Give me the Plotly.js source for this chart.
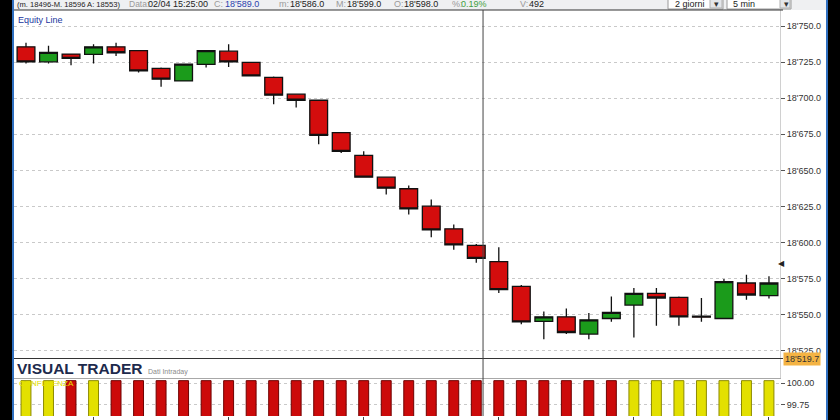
<!DOCTYPE html>
<html>
<head>
<meta charset="utf-8">
<script src="https://cdn.plot.ly/plotly-3.0.1.min.js"></script>
<style>
  html, body { margin:0; padding:0; background:#000; width:840px; height:420px; overflow:hidden; }
  #lb { position:absolute; left:12px; top:0; width:2px; height:420px; background:#2f6fc0; }
  #rb { position:absolute; left:826px; top:0; width:2px; height:420px; background:#2f6fc0; }
  #chart { position:absolute; left:14px; top:0; width:812px; height:420px; background:#fff; }
</style>
</head>
<body>
<div id="lb"></div>
<div id="rb"></div>
<div id="chart"></div>
<script>
// ---- data (5-minute bars) ----
const times = ['13:45','13:50','13:55','14:00','14:05','14:10','14:15','14:20','14:25','14:30',
               '14:35','14:40','14:45','14:50','14:55','15:00','15:05','15:10','15:15','15:20',
               '15:25','15:30','15:35','15:40','15:45','15:50','15:55','16:00','16:05','16:10',
               '16:15','16:20','16:25','16:30'];
const openP  = [18735.6,18725.2,18730.6,18730.3,18735.6,18732.9,18720.6,18712.0,18723.4,18732.6,
                18724.8,18714.4,18702.8,18698.6,18676.2,18660.4,18645.3,18637.3,18625.2,18609.5,
                18598.0,18586.8,18569.7,18545.4,18548.6,18536.6,18547.4,18556.7,18564.8,18562.0,
                18549.0,18547.4,18572.0,18563.2];
const highP  = [18738.4,18736.3,18731.0,18737.3,18738.4,18733.3,18721.3,18724.1,18732.9,18737.3,
                18725.2,18715.0,18703.3,18698.6,18676.6,18663.2,18645.3,18639.6,18629.9,18612.5,
                18599.0,18596.7,18570.6,18552.3,18554.4,18551.2,18562.7,18568.5,18568.5,18562.7,
                18561.6,18574.8,18577.8,18576.6];
const lowP   = [18724.1,18724.1,18722.9,18724.1,18729.2,18717.8,18707.9,18712.0,18721.3,18721.7,
                18715.5,18695.8,18693.5,18668.1,18662.0,18645.3,18633.3,18619.4,18603.7,18595.1,
                18586.0,18565.1,18543.5,18533.1,18536.6,18533.1,18545.1,18534.2,18542.4,18542.4,
                18545.1,18547.4,18560.4,18561.3];
const closeP = [18725.2,18731.7,18727.6,18735.6,18731.5,18719.0,18713.2,18723.6,18732.9,18725.2,
                18715.5,18702.1,18698.6,18674.3,18663.2,18645.3,18637.7,18623.4,18608.8,18598.4,
                18589.0,18567.4,18545.1,18548.6,18537.7,18546.5,18551.6,18564.8,18561.6,18548.6,
                18548.3,18572.9,18563.7,18572.0];
// lower panel indicator: state Y = yellow, R = red
const indState = ['Y','Y','R','Y','R','R','R','R','R','R','R','R','R','R','R','R','R','R','R','R',
                  'R','R','R','R','R','R','R','Y','Y','Y','Y','Y','Y','Y'];
const indValue = [100.03,100.03,100.03,100.03,100.03,100.03,100.03,100.03,100.03,100.03,100.03,100.03,
                  100.03,100.03,100.03,100.03,100.03,100.03,100.03,100.03,100.03,100.03,100.03,100.03,
                  100.03,100.03,100.03,100.03,100.03,100.03,100.03,100.03,100.03,100.03];
const timeTicks = ['14:00','14:30','15:00','15:30','16:00','16:30'];
const cursorPrice = 18519.7;
const lastMarkPrice = 18585.4;
const header = {range:'(m. 18496-M. 18596 A: 18553)', date:'02/04 15:25:00', c:"18'589.0", m:"18'586.0",
                M:"18'599.0", o:"18'598.0", pct:'0.19%', v:'492'};

// ---- layout helpers (pixel -> paper) ----
const W = 812, H = 420, ML = 0, MR = 46, MT = 10, MB = 4;
const PW = W - ML - MR, PH = H - MT - MB;
const px = x => (x - 14 - ML) / PW;
const py = y => (H - MB - y) / PH;
const FONT = 'Liberation Sans, Arial, sans-serif';

const candles = {
  type:'candlestick', x: times, open: openP, high: highP, low: lowP, close: closeP,
  xaxis:'x', yaxis:'y',
  increasing:{line:{color:'#111', width:1.3}, fillcolor:'#1b9b1b'},
  decreasing:{line:{color:'#111', width:1.3}, fillcolor:'#d40d0d'},
  whiskerwidth:0, hoverinfo:'skip', showlegend:false
};
const indBars = {
  type:'bar', x: times, y: indValue, xaxis:'x2', yaxis:'y2',
  marker:{color: indState.map(s => s === 'Y' ? '#e3e000' : '#cc0a0a'),
          line:{color: indState.map(s => s === 'Y' ? '#8c8a00' : '#6e0000'), width:1}},
  hoverinfo:'skip', showlegend:false
};

const headerItems = [
  [15, header.range, '#222', 7.6], [127, 'Data:', '#9a9a9a', 8.5], [146, header.date, '#222', 9],
  [212, 'C:', '#9a9a9a', 9], [223, header.c, '#2b3fae', 9],
  [277, 'm:', '#9a9a9a', 9], [288, header.m, '#222', 9],
  [334, 'M:', '#9a9a9a', 9], [345, header.M, '#222', 9],
  [392, 'O:', '#9a9a9a', 9], [402, header.o, '#222', 9],
  [450, '%:', '#9a9a9a', 9], [459, header.pct, '#3f9f3f', 9],
  [518, 'V:', '#9a9a9a', 9], [527, header.v, '#222', 9],
  [673, '2 giorni', '#222', 9], [731, '5 min', '#222', 9]
];
const annotations = headerItems.map(([x, t, c, s]) => ({
  xref:'paper', yref:'paper', x: px(x), y: py(4.5), xanchor:'left', yanchor:'middle',
  text: t, showarrow:false, font:{family:FONT, size:s, color:c}
}));
annotations.push(
  {xref:'paper', yref:'paper', x:px(716), y:py(4), xanchor:'center', yanchor:'middle', text:'▾', showarrow:false, font:{family:FONT, size:9, color:'#333'}},
  {xref:'paper', yref:'paper', x:px(786), y:py(4), xanchor:'center', yanchor:'middle', text:'▾', showarrow:false, font:{family:FONT, size:9, color:'#333'}},
  {xref:'paper', yref:'paper', x:px(16), y:py(19.5), xanchor:'left', yanchor:'middle', text:'Equity Line', showarrow:false, font:{family:FONT, size:9, color:'#2035a0'}},
  {xref:'paper', yref:'paper', x:px(15), y:py(368.5), xanchor:'left', yanchor:'middle', text:'<b>VISUAL TRADER</b>', showarrow:false, font:{family:FONT, size:15.5, color:'#1d2a4c'}},
  {xref:'paper', yref:'paper', x:px(146), y:py(372), xanchor:'left', yanchor:'middle', text:'Dati Intraday', showarrow:false, font:{family:FONT, size:7, color:'#8a8a8a'}},
  {xref:'paper', yref:'paper', x:px(17), y:py(383), xanchor:'left', yanchor:'middle', text:'CONFLUENZA', showarrow:false, font:{family:FONT, size:8, color:'#e6e300'}},
  {xref:'paper', yref:'y', x:px(783), y:cursorPrice, xanchor:'left', yanchor:'middle', text:"18'519.7", showarrow:false,
   bgcolor:'#f4b343', borderpad:1, font:{family:FONT, size:9, color:'#333'}},
  {xref:'paper', yref:'y', x:px(782), y:lastMarkPrice, xanchor:'center', yanchor:'middle', text:'◀', showarrow:false, font:{family:FONT, size:8, color:'#222'}}
);

const mainBottom = (H - MB - 378) / PH;
const shapes = [
  {type:'rect', xref:'paper', yref:'paper', x0:px(14), x1:px(826), y0:py(10), y1:py(0), fillcolor:'#eff0f2', line:{width:0}, layer:'below'},
  {type:'rect', xref:'paper', yref:'paper', x0:px(668), x1:px(723), y0:py(9), y1:py(-2), fillcolor:'#fff', line:{color:'#9a9a9a', width:1}},
  {type:'rect', xref:'paper', yref:'paper', x0:px(710), x1:px(722), y0:py(8), y1:py(-2), fillcolor:'#e4e6ea', line:{color:'#b0b0b0', width:1}},
  {type:'rect', xref:'paper', yref:'paper', x0:px(727), x1:px(791), y0:py(9), y1:py(-2), fillcolor:'#fff', line:{color:'#9a9a9a', width:1}},
  {type:'rect', xref:'paper', yref:'paper', x0:px(780), x1:px(790), y0:py(8), y1:py(-2), fillcolor:'#e4e6ea', line:{color:'#b0b0b0', width:1}},
  {type:'line', xref:'paper', yref:'paper', x0:px(14), x1:px(783), y0:py(10), y1:py(10), line:{color:'#333', width:1.2}},
  {type:'line', xref:'paper', yref:'y', x0:0, x1:px(783), y0:cursorPrice, y1:cursorPrice, line:{color:'#333', width:1}},
  {type:'line', xref:'x', yref:'paper', x0:20.3, x1:20.3, y0:0, y1:1, line:{color:'#444', width:1}}
];

const layout = {
  width:W, height:H, margin:{l:ML, r:MR, t:MT, b:MB},
  paper_bgcolor:'#fff', plot_bgcolor:'#fff',
  separators:".'",
  boxgap:0.21, boxgroupgap:0, bargap:0.56,
  showlegend:false,
  font:{family:FONT, size:9, color:'#333'},
  xaxis:{type:'category', domain:[0,1], anchor:'y', range:[-0.533, 33.49], rangeslider:{visible:false},
         showticklabels:false, ticks:'', showgrid:false, zeroline:false,
         showline:true, linecolor:'#a8a8a8', linewidth:1},
  yaxis:{domain:[mainBottom, 1], anchor:'x', side:'right', range:[18506.2, 18761.1],
         tick0:18500, dtick:25, tickformat:',.1f', ticks:'outside', ticklen:4, tickcolor:'#555',
         showgrid:true, gridcolor:'#c9c9c9', griddash:'dot', gridwidth:1, zeroline:false,
         showline:true, linecolor:'#d0d0d0', tickfont:{family:FONT, size:9, color:'#333'}},
  xaxis2:{type:'category', domain:[0,1], anchor:'y2', matches:'x', showticklabels:false,
          tickmode:'array', tickvals:timeTicks, ticks:'outside', ticklen:4, tickcolor:'#444',
          showgrid:false, zeroline:false, showline:false},
  yaxis2:{domain:[0, mainBottom], anchor:'x2', side:'right', range:[99.619, 100.061],
          tickmode:'array', tickvals:[99.75, 100.0], tickformat:'.2f', ticks:'outside', ticklen:4, tickcolor:'#555',
          showgrid:true, gridcolor:'#c9c9c9', griddash:'dot', zeroline:false, showline:false,
          tickfont:{family:FONT, size:9, color:'#333'}},
  shapes: shapes,
  annotations: annotations
};

Plotly.newPlot('chart', [candles, indBars], layout, {displayModeBar:false, staticPlot:true});
</script>
</body>
</html>
